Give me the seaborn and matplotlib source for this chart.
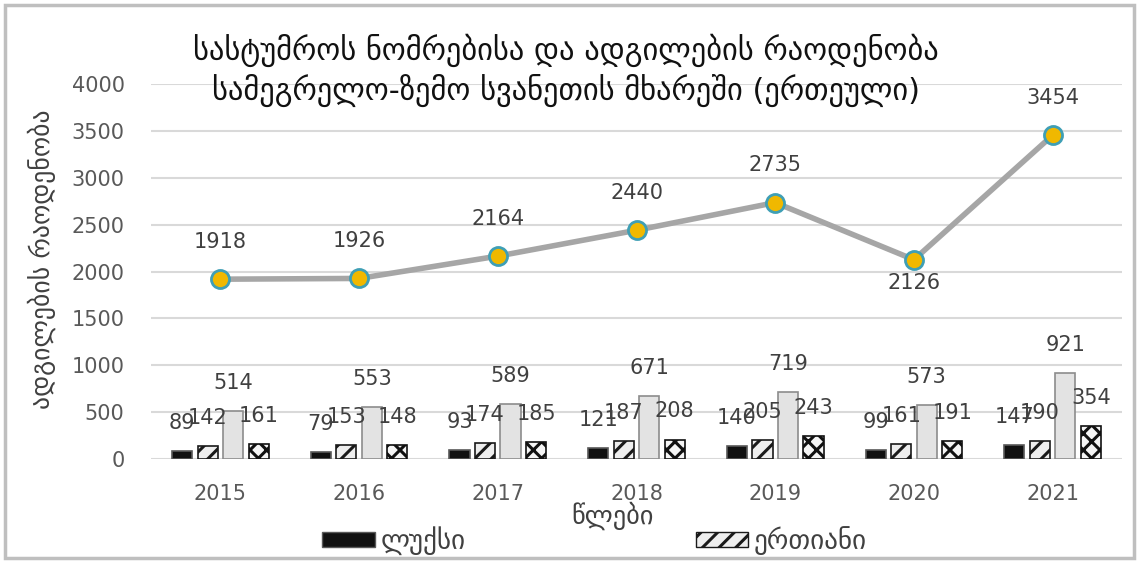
import matplotlib
matplotlib.use("Agg")
import matplotlib.pyplot as plt
import matplotlib.patches as mpatches
import seaborn as sns
import pandas as pd


YEARS = ["2015", "2016", "2017", "2018", "2019", "2020", "2021"]
ROOM_TYPES = ["ლუქსი", "ერთიანი", "ორადგილიანი", "სამადგილიანი"]
LUX = [89, 79, 93, 121, 140, 99, 147]
SINGLE = [142, 153, 174, 187, 205, 161, 190]
DOUBLE = [514, 553, 589, 671, 719, 573, 921]
TRIPLE = [161, 148, 185, 208, 243, 191, 354]
PLACES = [1918, 1926, 2164, 2440, 2735, 2126, 3454]

TITLE = "სასტუმროს ნომრებისა და ადგილების რაოდენობა\nსამეგრელო-ზემო სვანეთის მხარეში (ერთეული)"
Y_LABEL = "ადგილების რაოდენობა"
X_LABEL = "წლები"


def build_frame() -> pd.DataFrame:
    rows = []
    for room, values in zip(ROOM_TYPES, [LUX, SINGLE, DOUBLE, TRIPLE]):
        for year, value in zip(YEARS, values):
            rows.append({"year": year, "room": room, "count": value})
    return pd.DataFrame(rows)


sns.set_theme(style="white")
plt.rcParams["font.family"] = ["DejaVu Sans"]
plt.rcParams["hatch.linewidth"] = 2.2

df = build_frame()

fig = plt.figure(figsize=(11.39, 5.63), dpi=100)
ax = fig.add_axes([151 / 1139, 1 - 459 / 563, (1122 - 151) / 1139, (459 - 84) / 563])

palette = {
    "ლუქსი": "#111111",
    "ერთიანი": "#eeeeee",
    "ორადგილიანი": "#e3e3e3",
    "სამადგილიანი": "#f5f5f5",
}

sns.barplot(
    data=df,
    x="year",
    y="count",
    hue="room",
    order=YEARS,
    hue_order=ROOM_TYPES,
    palette=palette,
    width=0.735,
    gap=0.21,
    errorbar=None,
    legend=False,
    ax=ax,
)

styles = {
    "ლუქსი": dict(hatch="", edgecolor="#595959"),
    "ერთიანი": dict(hatch="//", edgecolor="#1a1a1a"),
    "ორადგილიანი": dict(hatch="", edgecolor="#8c8c8c"),
    "სამადგილიანი": dict(hatch="xx", edgecolor="#111111"),
}
for container, room in zip(ax.containers, ROOM_TYPES):
    for bar in container:
        bar.set_hatch(styles[room]["hatch"])
        bar.set_edgecolor(styles[room]["edgecolor"])
        bar.set_linewidth(1.2)
    ax.bar_label(container, fmt="%d", padding=13, fontsize=15, color="#404040")

sns.pointplot(
    x=YEARS,
    y=PLACES,
    color="#a6a6a6",
    errorbar=None,
    markers="o",
    linewidth=4,
    markersize=13,
    markerfacecolor="#f0b800",
    markeredgecolor="#3f9fb5",
    markeredgewidth=2,
    ax=ax,
    zorder=5,
)

for i, value in enumerate(PLACES):
    offset = -17 if i > 0 and value < PLACES[i - 1] else 27
    ax.annotate(
        f"{value}",
        xy=(i, value),
        xytext=(0, offset),
        textcoords="offset points",
        ha="center",
        va="center",
        fontsize=15,
        color="#404040",
    )

ax.set_ylim(0, 4000)
ax.set_xlim(-0.5, 6.5)
ax.set_yticks(range(0, 4001, 500))
ax.yaxis.grid(True, color="#d9d9d9", linewidth=1.5)
ax.set_axisbelow(True)
for side in ["top", "right", "left", "bottom"]:
    ax.spines[side].set_visible(False)
ax.tick_params(axis="y", length=0, pad=19, labelsize=15, labelcolor="#595959")
ax.tick_params(axis="x", length=0, pad=18, labelsize=15, labelcolor="#595959")

ax.set_xlabel(X_LABEL, fontsize=19, color="#404040")
ax.xaxis.set_label_coords((613 - 151) / (1122 - 151), -0.152)
ax.xaxis.label.set_va("center")
ax.set_ylabel(Y_LABEL, fontsize=18.5, color="#404040")
ax.yaxis.set_label_coords(-(151 - 42) / (1122 - 151), (459 - 259) / (459 - 84))
ax.yaxis.label.set_va("center")

fig.text(0.497, 0.875, TITLE, ha="center", va="center", fontsize=22,
         color="#111111", linespacing=1.25)

handles = [
    mpatches.Patch(facecolor=palette[r], edgecolor=styles[r]["edgecolor"],
                   hatch=styles[r]["hatch"], label=r)
    for r in ROOM_TYPES[:2]
]
fig.legend(
    handles=handles,
    loc="center",
    bbox_to_anchor=(0.522, 0.04),
    ncol=2,
    frameon=False,
    fontsize=19.5,
    handlelength=1.95,
    handleheight=0.5,
    handletextpad=0.2,
    columnspacing=8.5,
    labelcolor="#404040",
)

fig.patches.append(
    mpatches.Rectangle((5 / 1139, 5 / 563), 1129 / 1139, 553 / 563,
                       transform=fig.transFigure, fill=False,
                       edgecolor="#bfbfbf", linewidth=2.5)
)

fig.savefig("out.png", dpi=100)
